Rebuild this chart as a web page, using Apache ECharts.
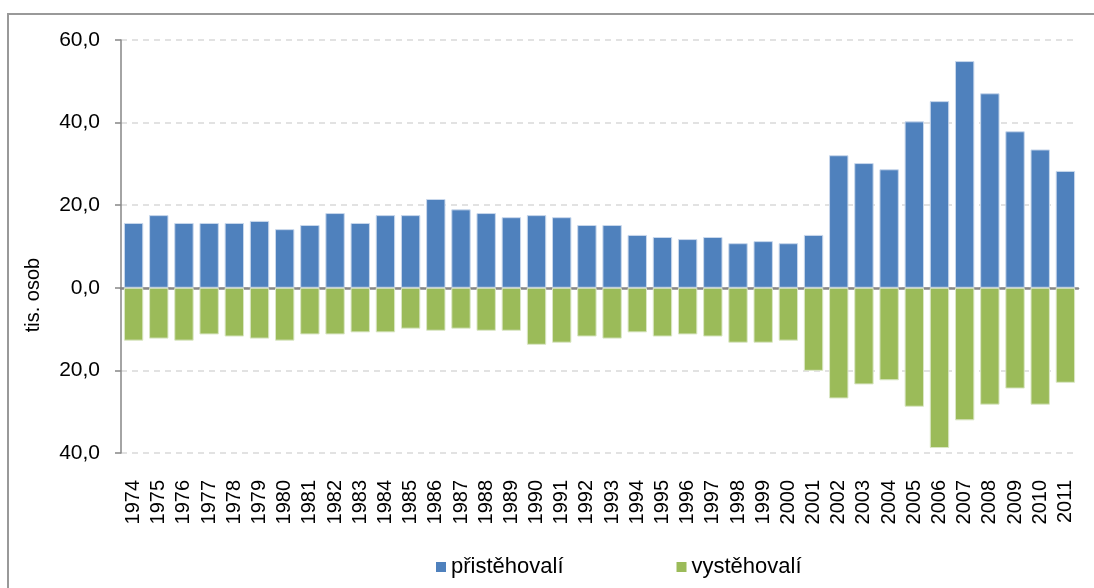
<!DOCTYPE html>
<html>
<head>
<meta charset="utf-8">
<script src="https://cdn.jsdelivr.net/npm/echarts@6/dist/echarts.min.js"></script>
<style>
  html, body { margin: 0; padding: 0; background: #fff; }
  #chart { width: 1094px; height: 588px; }
</style>
</head>
<body>
<div id="chart"></div>
<script>
// roky
const years = ['1974','1975','1976','1977','1978','1979','1980','1981','1982','1983',
  '1984','1985','1986','1987','1988','1989','1990','1991','1992','1993','1994','1995',
  '1996','1997','1998','1999','2000','2001','2002','2003','2004','2005','2006','2007',
  '2008','2009','2010','2011'];

// přistěhovalí (tis. osob)
const immigrants = [15.7, 17.6, 15.7, 15.7, 15.7, 16.2, 14.2, 15.2, 18.1, 15.7,
  17.6, 17.6, 21.5, 19.0, 18.1, 17.1, 17.6, 17.1, 15.2, 15.2, 12.8, 12.3,
  11.8, 12.3, 10.8, 11.3, 10.8, 12.8, 32.1, 30.2, 28.7, 40.3, 45.2, 54.9,
  47.1, 37.9, 33.5, 28.3];

// vystěhovalí (tis. osob), kresleno pod nulou
const emigrants = [12.8, 12.3, 12.8, 11.3, 11.8, 12.3, 12.8, 11.3, 11.3, 10.8,
  10.8, 9.9, 10.4, 9.9, 10.4, 10.4, 13.8, 13.3, 11.8, 12.3, 10.8, 11.8,
  11.3, 11.8, 13.3, 13.3, 12.8, 20.1, 26.8, 23.4, 22.4, 28.8, 38.8, 32.1,
  28.3, 24.4, 28.3, 23.0];

const yTicks = { min: -40, max: 60, step: 20 };

const font = 'Liberation Sans, Arial, sans-serif';
const chart = echarts.init(document.getElementById('chart'), null, { renderer: 'canvas' });

chart.setOption({
  animation: false,
  textStyle: { fontFamily: font },
  grid: { left: 121, right: 16, top: 40, bottom: 135, containLabel: false },
  legend: {
    left: 436, top: 556, padding: 0,
    itemWidth: 10, itemHeight: 10, itemGap: 113,
    icon: 'rect',
    itemStyle: { borderWidth: 0 },
    textStyle: { fontSize: 22, color: '#000', fontFamily: font },
    data: ['přistěhovalí', 'vystěhovalí']
  },
  xAxis: [{
    type: 'category',
    data: years,
    axisLine: { show: false, onZero: false },
    axisTick: { show: false },
    axisLabel: { rotate: 90, fontSize: 20, color: '#000', margin: 27, interval: 0 }
  }, {
    type: 'category',
    data: years,
    axisLine: { onZero: true, lineStyle: { color: '#868686', width: 2.5 } },
    axisTick: { show: false },
    axisLabel: { show: false }
  }],
  yAxis: {
    type: 'value',
    min: yTicks.min, max: yTicks.max, interval: yTicks.step,
    axisLine: { show: true, lineStyle: { color: '#868686', width: 1.5 } },
    axisTick: { show: true, length: 6, lineStyle: { color: '#868686', width: 1.5 } },
    axisLabel: {
      fontSize: 21, color: '#000', margin: 21,
      formatter: v => Math.abs(v).toFixed(1).replace('.', ',')
    },
    splitLine: { lineStyle: { color: '#d9d9d9', width: 1.5, type: [6, 5] } }
  },
  series: [{
    name: 'přistěhovalí',
    type: 'bar',
    stack: 'migrace',
    barCategoryGap: '23%',
    data: immigrants,
    itemStyle: { color: '#4F81BD', borderColor: '#c9d8ec', borderWidth: 1 }
  }, {
    name: 'vystěhovalí',
    type: 'bar',
    stack: 'migrace',
    data: emigrants.map(v => -v),
    itemStyle: { color: '#9BBB59', borderColor: '#dbe7c6', borderWidth: 1 }
  }],
  graphic: [{
    type: 'rect',
    shape: { x: 8, y: 14, width: 1200, height: 700 },
    style: { fill: 'none', stroke: '#999', lineWidth: 2 },
    silent: true
  }, {
    type: 'text',
    x: 33, y: 295,
    rotation: Math.PI / 2,
    style: {
      text: 'tis. osob', fontSize: 20, fontFamily: font, fill: '#000',
      align: 'center', verticalAlign: 'middle'
    }
  }]
});
</script>
</body>
</html>
